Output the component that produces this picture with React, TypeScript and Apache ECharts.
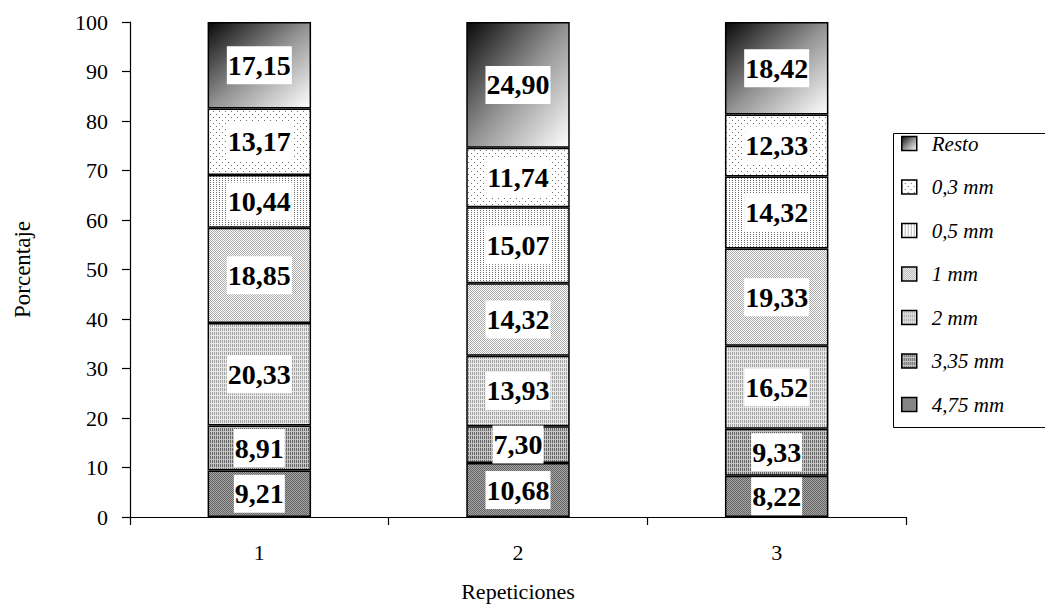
import React, { useEffect, useRef } from "react";
import * as echarts from "echarts";

const categories = ["1", "2", "3"];
const seriesNames = ["4,75 mm", "3,35 mm", "2 mm", "1 mm", "0,5 mm", "0,3 mm", "Resto"];
const mm475 = [9.21, 10.68, 8.22];
const mm335 = [8.91, 7.3, 9.33];
const mm2 = [20.33, 13.93, 16.52];
const mm1 = [18.85, 14.32, 19.33];
const mm05 = [10.44, 15.07, 14.32];
const mm03 = [13.17, 11.74, 12.33];
const resto = [17.15, 24.9, 18.42];
const legendOrder = ["Resto", "0,3 mm", "0,5 mm", "1 mm", "2 mm", "3,35 mm", "4,75 mm"];
const yMin = 0;
const yMax = 100;
const yInterval = 10;

const rawSeries = [mm475, mm335, mm2, mm1, mm05, mm03, resto];

const FONT = "'Liberation Serif', 'DejaVu Serif', serif";

function makePattern(rows: string[], palette: Record<string, string>) {
  const w = rows[0].length;
  const h = rows.length;
  const c = document.createElement("canvas");
  c.width = w;
  c.height = h;
  const ctx = c.getContext("2d")!;
  rows.forEach((r, y) => {
    for (let x = 0; x < r.length; x++) {
      ctx.fillStyle = palette[r[x]];
      ctx.fillRect(x, y, 1, 1);
    }
  });
  return {
    image: c.toDataURL(),
    repeat: "repeat",
    imageWidth: w,
    imageHeight: h,
  } as any;
}

export default function App() {
  const ref = useRef<HTMLDivElement>(null);

  useEffect(() => {
    if (!ref.current) return;
    const chart = echarts.init(ref.current, undefined, { renderer: "svg" });

    const fills: any[] = [
      // 4,75 mm: dark checker
      makePattern(["ab", "ba"], { a: "#626262", b: "#a8a8a8" }),
      // 3,35 mm: vertical stripes
      makePattern(["ab", "ab", "ab", "bb"], { a: "#666666", b: "#c4c4c4" }),
      // 2 mm: lighter vertical stripes
      makePattern(["ab", "ab", "ab", "bb"], { a: "#a2a2a2", b: "#e8e8e8" }),
      // 1 mm: light checker
      makePattern(["ab", "ba"], { a: "#a8a8a8", b: "#ffffff" }),
      // 0,5 mm: dense dots
      makePattern(["abb", "bbb"], { a: "#707070", b: "#ffffff" }),
      // 0,3 mm: sparse dots
      makePattern(
        ["abbbbb", "bbbbbb", "bbbbbb", "bbbabb", "bbbbbb", "bbbbbb"],
        { a: "#707070", b: "#ffffff" }
      ),
      // Resto: gradient
      new echarts.graphic.LinearGradient(0, 0, 1, 1, [
        { offset: 0, color: "#0a0a0a" },
        { offset: 0.5, color: "#929292" },
        { offset: 1, color: "#ffffff" },
      ]),
    ];

    const totals = categories.map((_, j) =>
      rawSeries.reduce((s, arr) => s + arr[j], 0)
    );

    const series = seriesNames.map((name, i) => ({
      name,
      type: "bar",
      stack: "total",
      barWidth: "40%",
      data: rawSeries[i].map((v, j) => (v / totals[j]) * 100),
      itemStyle: {
        color: fills[i],
        borderColor: "#000",
        borderWidth: 1.5,
      },
      label: {
        show: true,
        position: "inside",
        formatter: (p: any) => rawSeries[i][p.dataIndex].toFixed(2).replace(".", ","),
        fontFamily: FONT,
        fontWeight: "bold",
        fontSize: 28,
        color: "#000",
        backgroundColor: "#fff",
        padding: [2, 1, 2, 1],
        lineHeight: 34,
      },
    }));

    chart.setOption({
      animation: false,
      grid: {
        left: 130,
        right: 139,
        top: 22,
        bottom: 89,
        containLabel: false,
        outerBoundsMode: "none",
      },
      xAxis: {
        type: "category",
        data: categories,
        name: "Repeticiones",
        nameLocation: "middle",
        nameGap: 62,
        nameTextStyle: { fontFamily: FONT, fontSize: 22, color: "#000", lineHeight: 24 },
        axisLine: { show: true, lineStyle: { color: "#000", width: 1.2 } },
        axisTick: { show: true, length: 8, alignWithLabel: false, lineStyle: { color: "#000", width: 1.2 } },
        axisLabel: { fontFamily: FONT, fontSize: 22, color: "#000", margin: 24 },
      },
      yAxis: {
        type: "value",
        min: yMin,
        max: yMax,
        interval: yInterval,
        name: "Porcentaje",
        nameLocation: "middle",
        nameGap: 96,
        nameRotate: 90,
        nameTextStyle: { fontFamily: FONT, fontSize: 23, color: "#000" },
        axisLine: { show: true, lineStyle: { color: "#000", width: 1.2 } },
        axisTick: { show: true, length: 8, lineStyle: { color: "#000", width: 1.2 } },
        axisLabel: { fontFamily: FONT, fontSize: 22, color: "#000", margin: 22 },
        splitLine: { show: false },
      },
      legend: {
        orient: "vertical",
        left: 901,
        top: 133,
        padding: 0,
        itemWidth: 15,
        itemHeight: 14,
        itemGap: 22.5,
        icon: "rect",
        data: legendOrder,
        itemStyle: { borderColor: "#000", borderWidth: 1.5 },
        textStyle: {
          fontFamily: FONT,
          fontSize: 21,
          fontStyle: "italic",
          color: "#000",
          padding: [0, 0, 0, 10],
        },
      },
      graphic: [
        {
          type: "rect",
          left: 891,
          top: 131,
          shape: { width: 170, height: 294 },
          style: { fill: "none", stroke: "#000", lineWidth: 1 },
          z: -1,
        },
      ],
      series,
    });

    return () => chart.dispose();
  }, []);

  return (
    <div
      ref={ref}
      style={{ position: "absolute", left: 0, top: 0, width: 1045, height: 606 }}
    />
  );
}
